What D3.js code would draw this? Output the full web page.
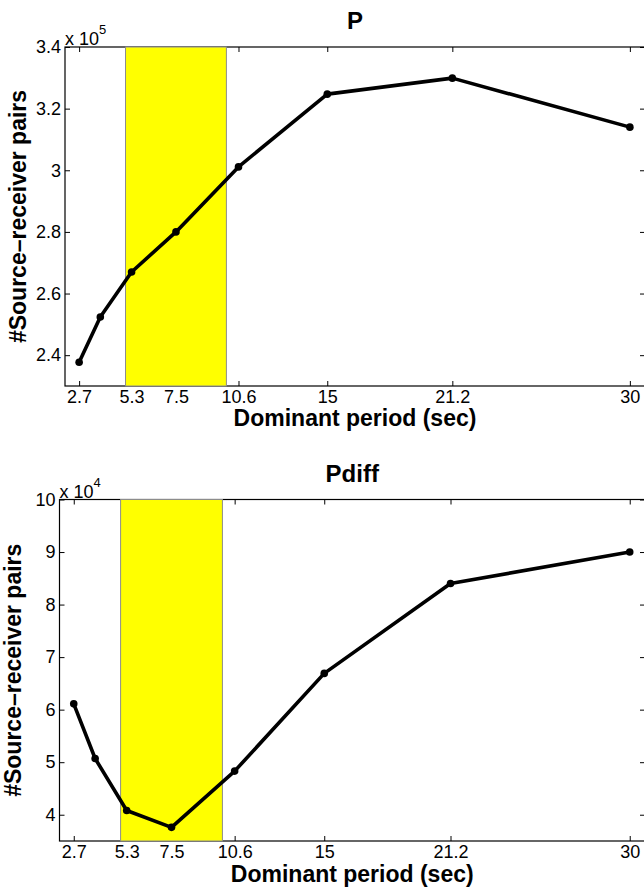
<!DOCTYPE html>
<html>
<head>
<meta charset="utf-8">
<script src="https://cdn.jsdelivr.net/npm/d3@7"></script>
<style>
  body { margin: 0; background: #fff; }
  svg { display: block; font-family: "Liberation Sans", Arial, sans-serif; }
  .tick text { font-size: 18px; fill: #000; }
  .tick line { stroke: #000; }
</style>
</head>
<body>
<div id="chart"></div>
<script>
// dominant periods (sec) for each filter band
const periods = [2.7, 3.75, 5.3, 7.5, 10.6, 15, 21.2, 30];
const xTicks = [2.7, 5.3, 7.5, 10.6, 15, 21.2, 30];
const band = [5, 10]; // highlighted period range

// number of source-receiver pairs
const pPairs = [237700, 252400, 267000, 280000, 301100, 324700, 329900, 314000];
const pdiffPairs = [61100, 50700, 40800, 37600, 48300, 66900, 84000, 90000];

const pTicks = [240000, 260000, 280000, 300000, 320000, 340000];
const pdiffTicks = [40000, 50000, 60000, 70000, 80000, 90000, 100000];

const W = 644, H = 887;

const svg = d3.select("#chart")
    .append("svg")
    .attr("width", W)
    .attr("height", H);

function drawPanel(opt) {
    const x = d3.scaleLinear()
        .domain([2, 30.75])
        .range([opt.left, opt.right]);
    const y = d3.scaleLinear()
        .domain(opt.yDomain)
        .range([opt.bottom, opt.top]);

    const g = svg.append("g");

    // bottom axis with labels
    g.append("g")
        .attr("transform", `translate(0,${opt.bottom})`)
        .call(d3.axisBottom(x).tickValues(xTicks).tickSizeInner(-5).tickSizeOuter(0)
            .tickPadding(4).tickFormat(d => d))
        .call(a => a.select(".domain").remove());
    // top axis, ticks only
    g.append("g")
        .attr("transform", `translate(0,${opt.top})`)
        .call(d3.axisTop(x).tickValues(xTicks).tickSizeInner(-5).tickSizeOuter(0).tickFormat(""))
        .call(a => a.select(".domain").remove());
    // left axis with labels
    g.append("g")
        .attr("transform", `translate(${opt.left},0)`)
        .call(d3.axisLeft(y).tickValues(opt.yTicks).tickSizeInner(-5).tickSizeOuter(0)
            .tickPadding(4).tickFormat(d => +(d / opt.mult).toFixed(1)))
        .call(a => a.select(".domain").remove());
    // right axis, ticks only
    g.append("g")
        .attr("transform", `translate(${opt.right},0)`)
        .call(d3.axisRight(y).tickValues(opt.yTicks).tickSizeInner(-5).tickSizeOuter(0).tickFormat(""))
        .call(a => a.select(".domain").remove());

    // box
    g.append("rect")
        .attr("x", opt.left)
        .attr("y", opt.top)
        .attr("width", opt.right - opt.left)
        .attr("height", opt.bottom - opt.top)
        .attr("fill", "none")
        .attr("stroke", "#000")
        .attr("stroke-width", 1.2);

    // yellow band sits over the frame
    g.append("rect")
        .attr("x", x(band[0]))
        .attr("y", opt.top)
        .attr("width", x(band[1]) - x(band[0]))
        .attr("height", opt.bottom - opt.top)
        .attr("fill", "#ffff00")
        .attr("stroke", "#8c8c8c")
        .attr("stroke-width", 1);

    const line = d3.line()
        .x((d, i) => x(periods[i]))
        .y(d => y(d));

    g.append("path")
        .datum(opt.values)
        .attr("d", line)
        .attr("fill", "none")
        .attr("stroke", "#000")
        .attr("stroke-width", 3.6)
        .attr("stroke-linejoin", "round");

    g.selectAll("circle.pt")
        .data(opt.values)
        .enter()
        .append("circle")
        .attr("class", "pt")
        .attr("cx", (d, i) => x(periods[i]))
        .attr("cy", d => y(d))
        .attr("r", 3.8)
        .attr("fill", "#000");

    // exponent note
    const ex = g.append("text")
        .attr("x", opt.left)
        .attr("y", opt.top - 2)
        .style("font-size", "18px");
    ex.append("tspan").text("x 10");
    ex.append("tspan")
        .attr("dy", -11)
        .style("font-size", "13px")
        .text(opt.exp);

    // title
    g.append("text")
        .attr("x", (opt.left + opt.right) / 2)
        .attr("y", opt.top - 18)
        .attr("text-anchor", "middle")
        .style("font-size", "24px")
        .style("font-weight", "bold")
        .text(opt.title);

    // axis labels
    g.append("text")
        .attr("x", (opt.left + opt.right) / 2)
        .attr("y", opt.bottom + opt.xLabelGap)
        .attr("text-anchor", "middle")
        .style("font-size", "23px")
        .style("font-weight", "bold")
        .text("Dominant period (sec)");

    g.append("text")
        .attr("transform", `translate(${opt.left - 39},${(opt.top + opt.bottom) / 2}) rotate(-90)`)
        .attr("text-anchor", "middle")
        .style("font-size", "23px")
        .style("font-weight", "bold")
        .text("#Source\u2013receiver pairs");
}

drawPanel({
    title: "P",
    values: pPairs,
    yDomain: [230000, 340000],
    yTicks: pTicks,
    mult: 1e5,
    exp: "5",
    xLabelGap: 40,
    left: 65, right: 645, top: 47, bottom: 386
});

drawPanel({
    title: "Pdiff",
    values: pdiffPairs,
    yDomain: [35000, 100000],
    yTicks: pdiffTicks,
    mult: 1e4,
    exp: "4",
    xLabelGap: 41,
    left: 59.5, right: 645, top: 499.5, bottom: 841
});
</script>
</body>
</html>
